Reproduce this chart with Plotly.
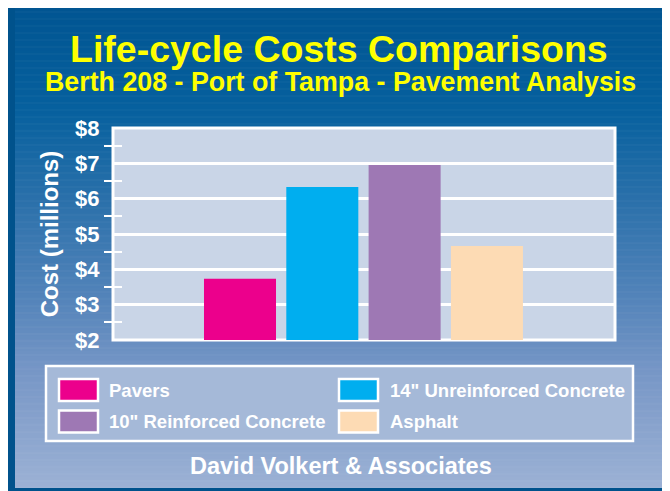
import plotly.graph_objects as go

# ---------------- data ----------------
categories = ["Pavers", "14\" Unreinforced Concrete", "10\" Reinforced Concrete", "Asphalt"]
costs = [3.73, 6.33, 6.95, 4.66]          # $ millions
bar_colors = ["#ec008c", "#00aeef", "#9e78b4", "#fddbb4"]
y_tickvals = [2, 3, 4, 5, 6, 7, 8]
y_ticktext = ["$2", "$3", "$4", "$5", "$6", "$7", "$8"]
title_text = "Life-cycle Costs Comparisons"
subtitle_text = "Berth 208 - Port of Tampa - Pavement Analysis"
footer_text = "David Volkert & Associates"
y_title = "Cost (millions)"

# ---------------- layout geometry (pixels, page coordinates) ----------------
W, H = 670, 491
OFF = 8            # page body margin offset
L, R, T, B = 113, 615, 128, 340
FONT = "Liberation Sans, Arial, Helvetica, sans-serif"


def fx(px):
    return (px - L) / (R - L)


def fy(py):
    return (B - py) / (B - T)


def lerp_color(stops, py):
    for (p0, c0), (p1, c1) in zip(stops, stops[1:]):
        if p0 <= py <= p1:
            t = (py - p0) / (p1 - p0)
            return "rgb(%d,%d,%d)" % tuple(round(a + (b - a) * t) for a, b in zip(c0, c1))
    return "rgb(%d,%d,%d)" % stops[-1][1]


grad_stops = [
    (0, (0, 84, 145)),
    (110, (6, 96, 158)),
    (200, (42, 112, 170)),
    (300, (84, 132, 186)),
    (370, (118, 150, 198)),
    (500, (160, 180, 214)),
]

shapes = []
step = 3
for py in range(6, H + OFF, step):
    shapes.append(dict(type="rect", xref="paper", yref="paper", layer="below",
                       x0=fx(8), x1=fx(665), y0=fy(py), y1=fy(py + step + 0.5),
                       fillcolor=lerp_color(grad_stops, py + step / 2), line=dict(width=0)))
for py in range(12, H, 7):
    shapes.append(dict(type="line", xref="paper", yref="paper", layer="below",
                       x0=fx(15), x1=fx(662), y0=fy(py), y1=fy(py),
                       line=dict(color="rgba(255,255,255,0.06)", width=1)))
shapes.append(dict(type="rect", xref="paper", yref="paper", layer="below",
                   x0=fx(8), x1=fx(15), y0=fy(6), y1=fy(H + OFF), fillcolor="#00528c", line=dict(width=0)))
shapes.append(dict(type="rect", xref="paper", yref="paper", layer="below",
                   x0=fx(8), x1=fx(665), y0=fy(488), y1=fy(H + OFF), fillcolor="#00528c", line=dict(width=0)))
shapes.append(dict(type="rect", xref="paper", yref="paper", layer="below",
                   x0=fx(662), x1=fx(665), y0=fy(6), y1=fy(H + OFF), fillcolor="#00528c", line=dict(width=0)))
shapes.append(dict(type="rect", xref="paper", yref="paper", layer="below",
                   x0=fx(665), x1=fx(W + OFF), y0=fy(6), y1=fy(H + OFF), fillcolor="#3c84bf", line=dict(width=0)))
shapes.append(dict(type="rect", xref="paper", yref="paper", layer="below",
                   x0=0, x1=1, y0=0, y1=1, fillcolor="#c9d5e7",
                   line=dict(color="white", width=3)))
shapes.append(dict(type="rect", xref="paper", yref="paper", layer="below",
                   x0=fx(46), x1=fx(633), y0=fy(441), y1=fy(366), fillcolor="#a5b9d8",
                   line=dict(color="white", width=2.5)))

annotations = []
leg_cols = [(58, 107), (338, 388)]
leg_rows = [390, 421.5]
for i, (name, col) in enumerate(zip(categories, bar_colors)):
    sx, tx = leg_cols[i % 2]
    cy = leg_rows[i // 2]
    shapes.append(dict(type="rect", xref="paper", yref="paper", layer="above",
                       x0=fx(sx + 1), x1=fx(sx + 40), y0=fy(cy + 11), y1=fy(cy - 11),
                       fillcolor=col, line=dict(color="white", width=2.5)))
    annotations.append(dict(text=name, xref="paper", yref="paper", x=fx(tx), y=fy(cy),
                            xanchor="left", yanchor="middle", showarrow=False,
                            font=dict(family=FONT, size=18.5, color="white", weight="bold")))

annotations += [
    dict(text=title_text, xref="paper", yref="paper", x=fx(339), y=fy(49),
         xanchor="center", yanchor="middle", showarrow=False,
         font=dict(family=FONT, size=37.5, color="#ffff00", weight="bold")),
    dict(text=subtitle_text, xref="paper", yref="paper", x=fx(340), y=fy(82),
         xanchor="center", yanchor="middle", showarrow=False,
         font=dict(family=FONT, size=26.8, color="#ffff00", weight="bold")),
    dict(text=footer_text, xref="paper", yref="paper", x=fx(341), y=fy(466),
         xanchor="center", yanchor="middle", showarrow=False,
         font=dict(family=FONT, size=23.5, color="white", weight="bold")),
]

fig = go.Figure(go.Bar(
    x=categories, y=costs, marker=dict(color=bar_colors, line=dict(width=0)),
    width=0.875, showlegend=False, hoverinfo="x+y",
))

fig.update_layout(
    width=W, height=H,
    margin=dict(l=L - OFF, r=W - R + OFF, t=T - OFF, b=H - B + OFF, pad=0),
    paper_bgcolor="white", plot_bgcolor="rgba(0,0,0,0)",
    showlegend=False,
    shapes=shapes, annotations=annotations,
    xaxis=dict(type="category", categoryorder="array", categoryarray=categories,
               range=[-1.543, 4.556], showticklabels=False, ticks="", showgrid=False,
               zeroline=False, showline=False, fixedrange=True),
    yaxis=dict(range=[2, 8], tickmode="array", tickvals=y_tickvals, ticktext=y_ticktext,
               anchor="free", position=fx(122), automargin=False,
               ticks="outside", ticklen=18, tickcolor="rgba(0,0,0,0)",
               minor=dict(tickmode="array",
                          tickvals=[v + 0.5 for v in y_tickvals[:-1]],
                          ticks="outside", ticklen=18, tickwidth=2, tickcolor="white",
                          showgrid=False),
               showgrid=True, gridcolor="white", gridwidth=2.5,
               zeroline=False, showline=False,
               tickfont=dict(family=FONT, size=22, color="white", weight="bold"),
               title=dict(text=y_title, standoff=8,
                          font=dict(family=FONT, size=24, color="white", weight="bold")),
               fixedrange=True),
)

fig.write_html("out.html")
